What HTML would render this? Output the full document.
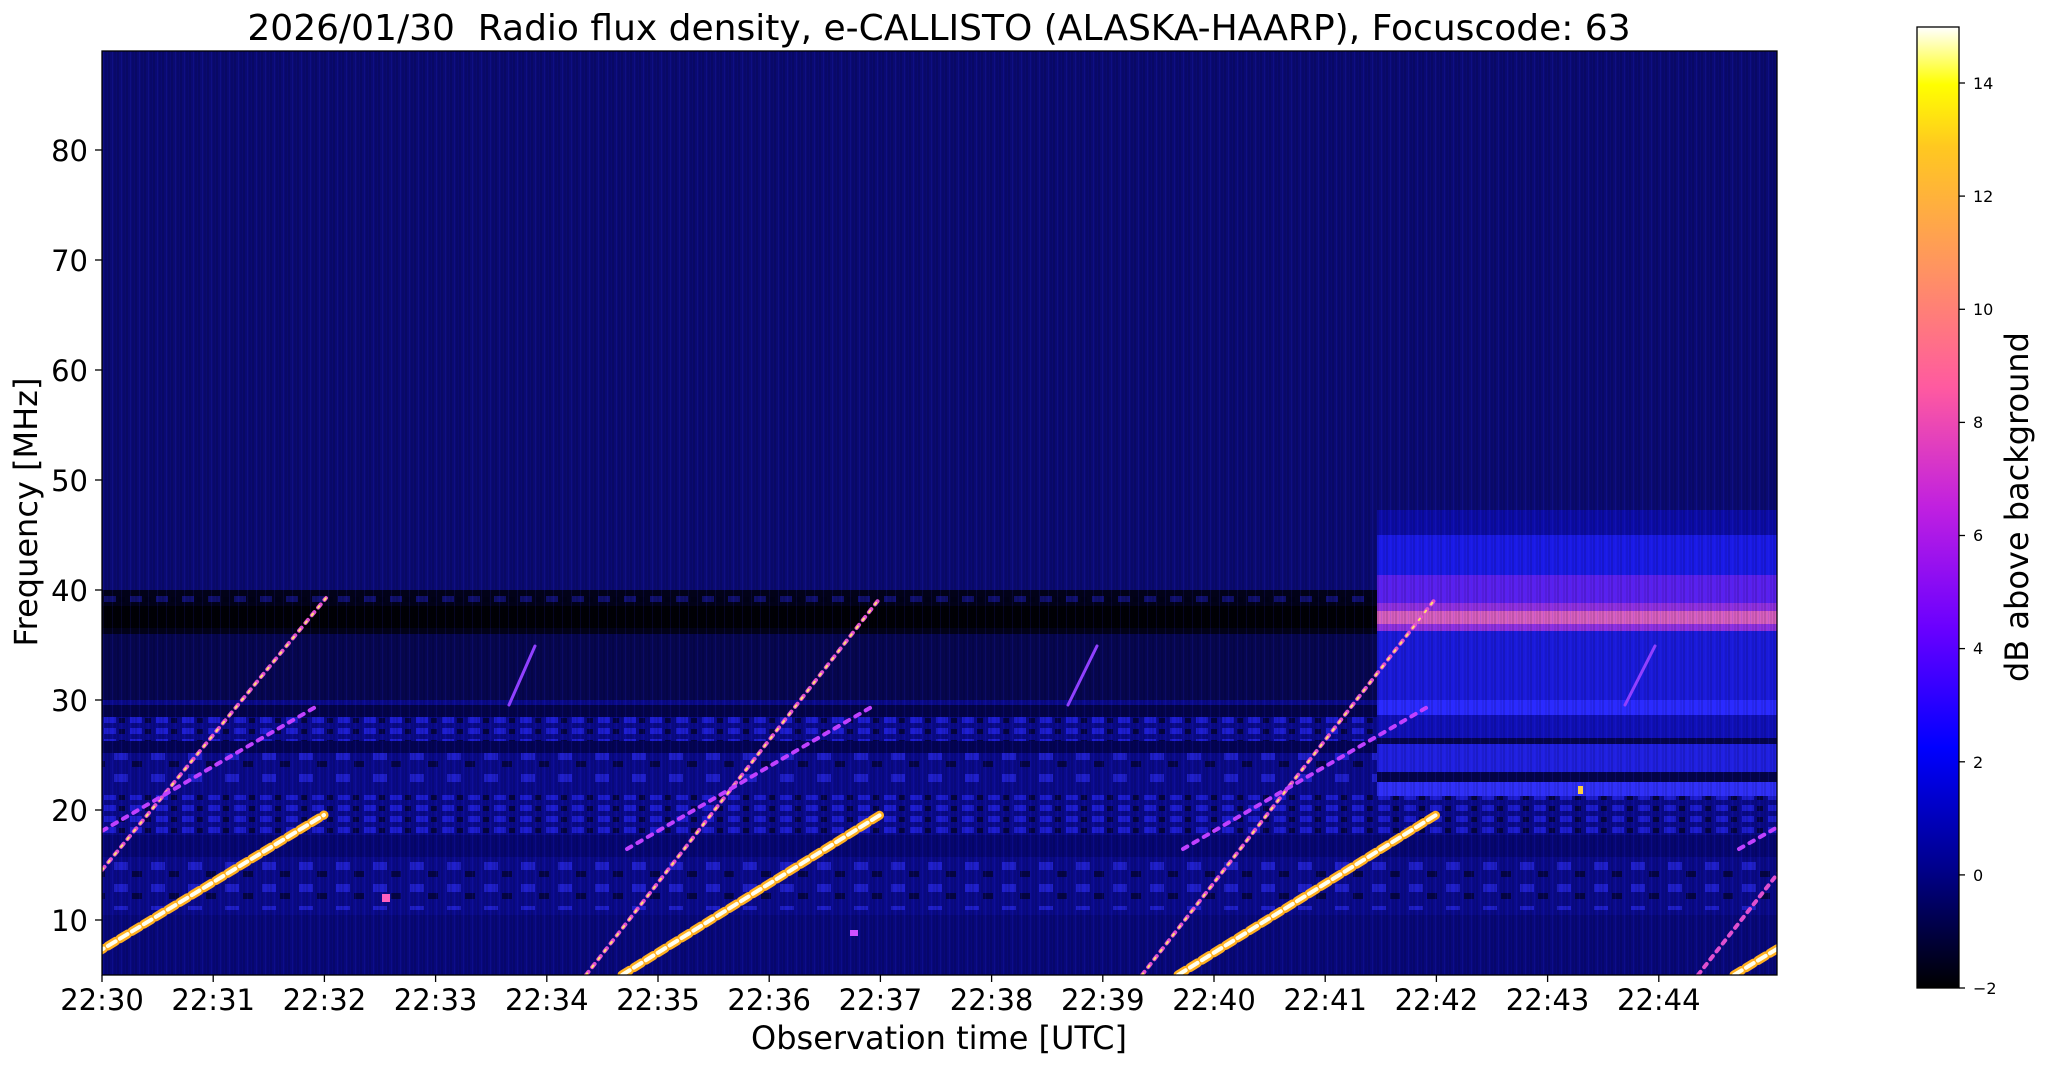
<!DOCTYPE html>
<html><head><meta charset="utf-8"><style>
html,body{margin:0;padding:0;background:#fff;}
svg{display:block;font-family:"DejaVu Sans","Liberation Sans",sans-serif;}
</style></head><body>
<svg width="2047" height="1067" viewBox="0 0 2047 1067" xmlns="http://www.w3.org/2000/svg">
<defs>
<linearGradient id="cb" x1="0" y1="1" x2="0" y2="0">
<stop offset="0" stop-color="#000000"/>
<stop offset="0.125" stop-color="#00008c"/>
<stop offset="0.25" stop-color="#0000ff"/>
<stop offset="0.375" stop-color="#6a00ff"/>
<stop offset="0.5" stop-color="#c020e0"/>
<stop offset="0.625" stop-color="#ff5aa0"/>
<stop offset="0.75" stop-color="#ff9460"/>
<stop offset="0.875" stop-color="#ffc820"/>
<stop offset="0.94" stop-color="#ffff00"/>
<stop offset="1" stop-color="#ffffff"/>
</linearGradient>
<pattern id="vs" width="9" height="20" patternUnits="userSpaceOnUse">
<rect x="0" y="0" width="2" height="20" fill="#000" opacity="0.12"/>
<rect x="4" y="0" width="1" height="20" fill="#3030ff" opacity="0.12"/>
<rect x="6" y="0" width="2" height="20" fill="#000" opacity="0.08"/>
</pattern>
<pattern id="dots" width="26" height="11" patternUnits="userSpaceOnUse">
<rect x="0" y="2" width="12" height="6" fill="#2a2aff" opacity="0.6"/>
<rect x="15" y="3" width="6" height="5" fill="#000010" opacity="0.6"/>
</pattern>
<pattern id="dots2" width="37" height="22" patternUnits="userSpaceOnUse">
<rect x="3" y="4" width="14" height="8" fill="#3030ff" opacity="0.55"/>
<rect x="21" y="13" width="10" height="6" fill="#000018" opacity="0.6"/>
</pattern>
<clipPath id="pc"><rect x="102" y="51" width="1675" height="924"/></clipPath>
</defs>

<text x="939" y="40" font-size="36" text-anchor="middle" xml:space="preserve">2026/01/30  Radio flux density, e-CALLISTO (ALASKA-HAARP), Focuscode: 63</text>

<g clip-path="url(#pc)">
<rect x="102" y="51" width="1675" height="924" fill="#0a0a72"/>
<!-- lower noisy region -->
<rect x="102" y="700" width="1675" height="275" fill="#0a0a8a"/>
<rect x="102" y="705" width="1275" height="12" fill="#000030" opacity="0.7"/>
<rect x="102" y="717" width="1275" height="24" fill="url(#dots)"/>
<rect x="102" y="741" width="1275" height="12" fill="#000040" opacity="0.7"/>
<rect x="102" y="753" width="1675" height="30" fill="url(#dots2)"/>
<rect x="102" y="795" width="1675" height="40" fill="url(#dots)"/>
<rect x="102" y="835" width="1675" height="22" fill="#000050" opacity="0.4"/>
<rect x="102" y="860" width="1675" height="50" fill="url(#dots2)"/>
<rect x="102" y="915" width="1675" height="60" fill="#06066a" opacity="0.5"/>
<!-- black band left -->
<rect x="102" y="634" width="1275" height="66" fill="#060650"/>
<rect x="102" y="590" width="1275" height="44" fill="#02021a"/>
<rect x="102" y="606" width="1275" height="22" fill="#000005"/>
<rect x="102" y="593" width="1275" height="10" fill="url(#dots)" opacity="0.6"/>
<!-- right bright region -->
<rect x="1377" y="510" width="400" height="286" fill="#1010b8"/>
<rect x="1377" y="510" width="400" height="25" fill="#0c0ca6"/>
<rect x="1377" y="535" width="400" height="40" fill="#1a1ae6"/>
<rect x="1377" y="575" width="400" height="28" fill="#5a20ee"/>
<rect x="1377" y="603" width="400" height="28" fill="#9030e0"/>
<rect x="1377" y="611" width="400" height="13" fill="#d860c0"/>
<rect x="1377" y="631" width="400" height="70" fill="#1a1ada"/>
<rect x="1377" y="700" width="400" height="15" fill="#2a2aff"/>
<rect x="1377" y="738" width="400" height="6" fill="#050550"/>
<rect x="1377" y="744" width="400" height="28" fill="#2020e0"/>
<rect x="1377" y="772" width="400" height="10" fill="#000030" opacity="0.8"/>
<rect x="1377" y="782" width="400" height="14" fill="#3030f8"/>
<rect x="102" y="51" width="1675" height="924" fill="url(#vs)"/>
<g stroke-linecap="round">
<g stroke="#ffb020" stroke-width="9" stroke-dasharray="9 5">
<line x1="60" y1="975" x2="324" y2="815"/>
<line x1="622" y1="975" x2="880" y2="815"/>
<line x1="1178" y1="975" x2="1436" y2="815"/>
<line x1="1734" y1="975" x2="1800" y2="935"/>
</g>
<g stroke="#fffff0" stroke-width="4" stroke-dasharray="9 5">
<line x1="60" y1="975" x2="324" y2="815"/>
<line x1="622" y1="975" x2="880" y2="815"/>
<line x1="1178" y1="975" x2="1436" y2="815"/>
<line x1="1734" y1="975" x2="1800" y2="935"/>
</g>
<g stroke="#e050d0" stroke-width="4" stroke-dasharray="4 6">
<line x1="102" y1="870" x2="326" y2="598"/>
<line x1="586" y1="975" x2="880" y2="598"/>
<line x1="1142" y1="975" x2="1436" y2="598"/>
<line x1="1698" y1="975" x2="1790" y2="858"/>
</g>
<g stroke="#ffe070" stroke-width="2" stroke-dasharray="2 8">
<line x1="102" y1="870" x2="326" y2="598"/>
<line x1="586" y1="975" x2="880" y2="598"/>
<line x1="1142" y1="975" x2="1436" y2="598"/>
</g>
<g stroke="#c040ff" stroke-width="4" stroke-dasharray="5 7">
<line x1="71" y1="849" x2="319" y2="705"/>
<line x1="627" y1="849" x2="875" y2="705"/>
<line x1="1183" y1="849" x2="1431" y2="705"/>
<line x1="1739" y1="849" x2="1790" y2="820"/>
</g>
<g stroke="#9040ff" stroke-width="3">
<line x1="509" y1="705" x2="535" y2="646"/>
<line x1="1068" y1="705" x2="1097" y2="646"/>
<line x1="1625" y1="705" x2="1655" y2="646"/>
</g>
</g>
<rect x="382" y="894" width="8" height="8" fill="#ff60c0"/>
<rect x="1578" y="786" width="5" height="8" fill="#ffd040"/>
<rect x="850" y="930" width="8" height="6" fill="#d050ff"/>
</g>
<rect x="102" y="51" width="1675" height="924" fill="none" stroke="#000" stroke-width="1.3"/>

<g stroke="#000" stroke-width="1.3">
<line x1="95" y1="920" x2="102" y2="920"/><line x1="95" y1="810" x2="102" y2="810"/>
<line x1="95" y1="700" x2="102" y2="700"/><line x1="95" y1="590" x2="102" y2="590"/>
<line x1="95" y1="480" x2="102" y2="480"/><line x1="95" y1="370" x2="102" y2="370"/>
<line x1="95" y1="260" x2="102" y2="260"/><line x1="95" y1="150" x2="102" y2="150"/>
</g>
<g font-size="29" text-anchor="end">
<text x="88" y="931">10</text><text x="88" y="821">20</text><text x="88" y="711">30</text>
<text x="88" y="601">40</text><text x="88" y="491">50</text><text x="88" y="381">60</text>
<text x="88" y="271">70</text><text x="88" y="161">80</text>
</g>
<g stroke="#000" stroke-width="1.3">
<line x1="102" y1="975" x2="102" y2="982"/><line x1="213.2" y1="975" x2="213.2" y2="982"/>
<line x1="324.4" y1="975" x2="324.4" y2="982"/><line x1="435.6" y1="975" x2="435.6" y2="982"/>
<line x1="546.8" y1="975" x2="546.8" y2="982"/><line x1="658" y1="975" x2="658" y2="982"/>
<line x1="769.2" y1="975" x2="769.2" y2="982"/><line x1="880.4" y1="975" x2="880.4" y2="982"/>
<line x1="991.6" y1="975" x2="991.6" y2="982"/><line x1="1102.8" y1="975" x2="1102.8" y2="982"/>
<line x1="1214" y1="975" x2="1214" y2="982"/><line x1="1325.2" y1="975" x2="1325.2" y2="982"/>
<line x1="1436.4" y1="975" x2="1436.4" y2="982"/><line x1="1547.6" y1="975" x2="1547.6" y2="982"/>
<line x1="1658.8" y1="975" x2="1658.8" y2="982"/>
</g>
<g font-size="29" text-anchor="middle">
<text x="102" y="1010">22:30</text><text x="213.2" y="1010">22:31</text><text x="324.4" y="1010">22:32</text>
<text x="435.6" y="1010">22:33</text><text x="546.8" y="1010">22:34</text><text x="658" y="1010">22:35</text>
<text x="769.2" y="1010">22:36</text><text x="880.4" y="1010">22:37</text><text x="991.6" y="1010">22:38</text>
<text x="1102.8" y="1010">22:39</text><text x="1214" y="1010">22:40</text><text x="1325.2" y="1010">22:41</text>
<text x="1436.4" y="1010">22:42</text><text x="1547.6" y="1010">22:43</text><text x="1658.8" y="1010">22:44</text>
</g>
<text x="939" y="1049" font-size="32" text-anchor="middle">Observation time [UTC]</text>
<text transform="translate(37,512) rotate(-90)" font-size="32" text-anchor="middle">Frequency [MHz]</text>

<rect x="1917" y="27" width="42" height="961" fill="url(#cb)" stroke="#000" stroke-width="1.3"/>
<g stroke="#000" stroke-width="1.3">
<line x1="1959" y1="988" x2="1965" y2="988"/><line x1="1959" y1="874.9" x2="1965" y2="874.9"/>
<line x1="1959" y1="761.8" x2="1965" y2="761.8"/><line x1="1959" y1="648.6" x2="1965" y2="648.6"/>
<line x1="1959" y1="535.5" x2="1965" y2="535.5"/><line x1="1959" y1="422.4" x2="1965" y2="422.4"/>
<line x1="1959" y1="309.3" x2="1965" y2="309.3"/><line x1="1959" y1="196.1" x2="1965" y2="196.1"/>
<line x1="1959" y1="83" x2="1965" y2="83"/>
</g>
<g font-size="16">
<text x="1973" y="994">−2</text><text x="1973" y="881">0</text><text x="1973" y="768">2</text>
<text x="1973" y="654">4</text><text x="1973" y="541">6</text><text x="1973" y="428">8</text>
<text x="1973" y="315">10</text><text x="1973" y="202">12</text><text x="1973" y="89">14</text>
</g>
<text transform="translate(2028,507) rotate(-90)" font-size="32" text-anchor="middle">dB above background</text>
</svg>
</body></html>
